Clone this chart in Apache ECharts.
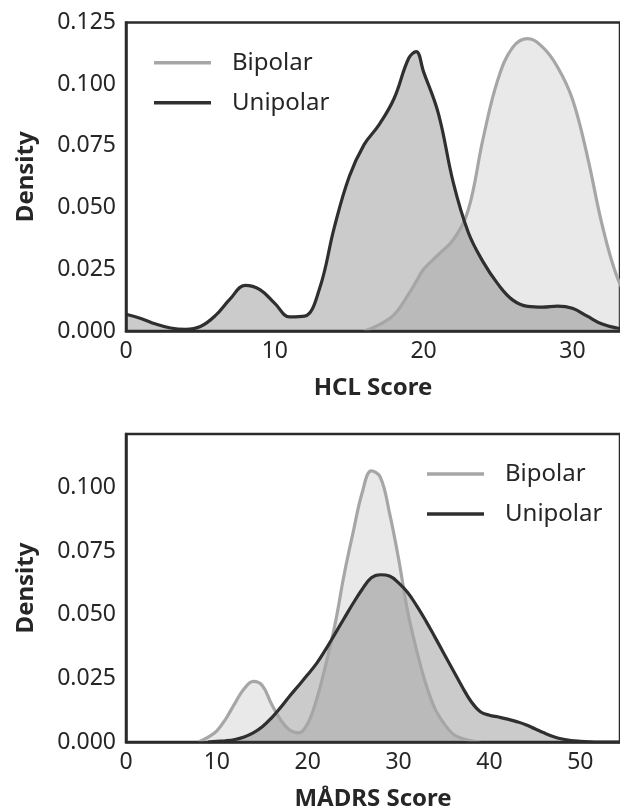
<!DOCTYPE html>
<html>
<head>
<meta charset="utf-8">
<script src="https://cdn.jsdelivr.net/npm/echarts@6/dist/echarts.min.js"></script>
<style>
  html, body { margin: 0; padding: 0; background: #fff; }
  #main { width: 620px; height: 812px; }
</style>
</head>
<body>
<div id="main"></div>
<script>
// HCL score densities (x = score)
var hclX = [0,1,2,3,4,5,6,7,8,9,10,11,12,13,14,15,16,17,18,19,19.5,20,21,22,23,24,25,26,27,28,29,30,31,32,33,34];
var hclBipolar = [null,null,null,null,null,null,null,null,null,null,null,null,null,null,null,null,
  0,0.0025,0.0065,0.015,0.02,0.025,0.031,0.037,0.049,0.078,0.102,0.115,0.1185,0.115,0.107,0.094,0.071,0.043,0.022,0.01];
var hclUnipolar = [0.0068,0.0051,0.0028,0.0012,0.0007,0.0018,0.0062,0.013,0.0185,0.0168,0.0112,0.0057,0.006,0.017,
  0.042,0.0625,0.0755,0.0835,0.094,0.1105,0.1132,0.105,0.088,0.06,0.04,0.028,0.019,0.0125,0.01,0.0097,0.0101,0.0092,0.006,0.0028,0.0012,0.0005];

// MADRS score densities
var madrsX = [0,1,2,3,4,5,6,7,8,9,10,11,12,13,14,15,16,17,18,19,20,21,22,23,24,25,26,27,28,29,30,31,32,33,34,35,36,37,38,39,
  40,41,42,43,44,45,46,47,48,49,50,51,52,53,54,55];
var madrsBipolar = [null,null,null,null,null,null,null,null,0,0.0018,0.0044,0.0092,0.0153,0.0209,0.0238,0.0222,
  0.015,0.0088,0.0047,0.0036,0.0073,0.017,0.0306,0.0461,0.0656,0.0824,0.098,0.1065,0.104,0.09,0.072,0.0513,0.0358,
  0.0228,0.0131,0.0073,0.0031,0.0014,0.0005,0,null,null,null,null,null,null,null,null,null,null,null,null,null,null,null,null];
var madrsUnipolar = [null,null,null,null,null,null,null,null,null,0,0.0003,0.0005,0.001,0.002,0.0036,0.006,0.0094,
  0.0135,0.018,0.0222,0.0265,0.031,0.0365,0.0425,0.0485,0.0545,0.06,0.0645,0.0657,0.0652,0.0625,0.0587,0.0535,0.0476,0.0412,
  0.0347,0.0282,0.0217,0.0158,0.0119,0.0105,0.0098,0.009,0.008,0.0068,0.0052,0.0036,0.0022,0.0012,0.0006,0.0003,0.0001,0,0,0,0];

var yTicks = [0, 0.025, 0.05, 0.075, 0.1, 0.125];

var FONT = "'Noto Sans', 'Open Sans', sans-serif";
var TXT = "#262626";
var BIP = "#a6a6a6";
var UNI = "#2f2f2f";

function pairs(xs, ys) {
  return xs.map(function (x, i) { return [x, ys[i]]; });
}

function mkSeries(name, color, xs, ys, idx) {
  return {
    name: name,
    type: "line",
    xAxisIndex: idx,
    yAxisIndex: idx,
    data: pairs(xs, ys),
    smooth: 0.4,
    symbol: "none",
    clip: true,
    lineStyle: { color: color, width: 3.2 },
    itemStyle: { color: color },
    areaStyle: { color: color, opacity: 0.25 }
  };
}

function mkX(idx, max, title) {
  return {
    gridIndex: idx,
    type: "value",
    min: 0,
    max: max,
    interval: 10,
    z: 10,
    splitLine: { show: false },
    axisTick: { show: false },
    axisLine: { show: true, onZero: false, lineStyle: { color: "#2b2b2b", width: 2.5 } },
    axisLabel: { showMaxLabel: false, margin: 9, color: TXT, fontSize: 23, fontFamily: FONT },
    name: title,
    nameLocation: "middle",
    nameGap: 45,
    nameTextStyle: { color: TXT, fontSize: 24, fontWeight: "bold", fontFamily: FONT }
  };
}

function mkY(idx, max) {
  return {
    gridIndex: idx,
    type: "value",
    min: 0,
    max: max,
    interval: 0.025,
    z: 10,
    splitLine: { show: false },
    axisTick: { show: false },
    axisLine: { show: true, lineStyle: { color: "#2b2b2b", width: 2.5 } },
    axisLabel: {
      margin: 10, color: TXT, fontSize: 23, fontFamily: FONT,
      formatter: function (v) { return yTicks.indexOf(Math.round(v * 1000) / 1000) >= 0 ? v.toFixed(3) : ""; }
    },
    name: "Density",
    nameLocation: "middle",
    nameGap: 88,
    nameTextStyle: { color: TXT, fontSize: 24, fontWeight: "bold", fontFamily: FONT }
  };
}

function mkLegend(left, top) {
  return {
    left: left,
    top: top,
    orient: "vertical",
    icon: "rect",
    itemWidth: 57,
    itemHeight: 3.5,
    itemGap: 16,
    data: ["Bipolar", "Unipolar"],
    textStyle: { color: TXT, fontSize: 24, lineHeight: 24, fontFamily: FONT, padding: [0, 0, 0, 16] }
  };
}

var myChart = echarts.init(document.getElementById("main"));
var option = {
  backgroundColor: "#fff",
  animation: false,
  grid: [
    { left: 126, right: -10, top: 22.5, bottom: 481, show: true, borderColor: "#2b2b2b", borderWidth: 2.5 },
    { left: 126, right: -10, top: 434, bottom: 70, show: true, borderColor: "#2b2b2b", borderWidth: 2.5 }
  ],
  xAxis: [mkX(0, 33.2, "HCL Score"), mkX(1, 54.37, "MÅDRS Score")],
  yAxis: [mkY(0, 0.125), mkY(1, 0.121)],
  legend: [mkLegend(149, 45.7), mkLegend(422, 457)],
  series: [
    mkSeries("Bipolar", BIP, hclX, hclBipolar, 0),
    mkSeries("Unipolar", UNI, hclX, hclUnipolar, 0),
    mkSeries("Bipolar", BIP, madrsX, madrsBipolar, 1),
    mkSeries("Unipolar", UNI, madrsX, madrsUnipolar, 1)
  ]
};
myChart.setOption(option);
</script>
</body>
</html>
